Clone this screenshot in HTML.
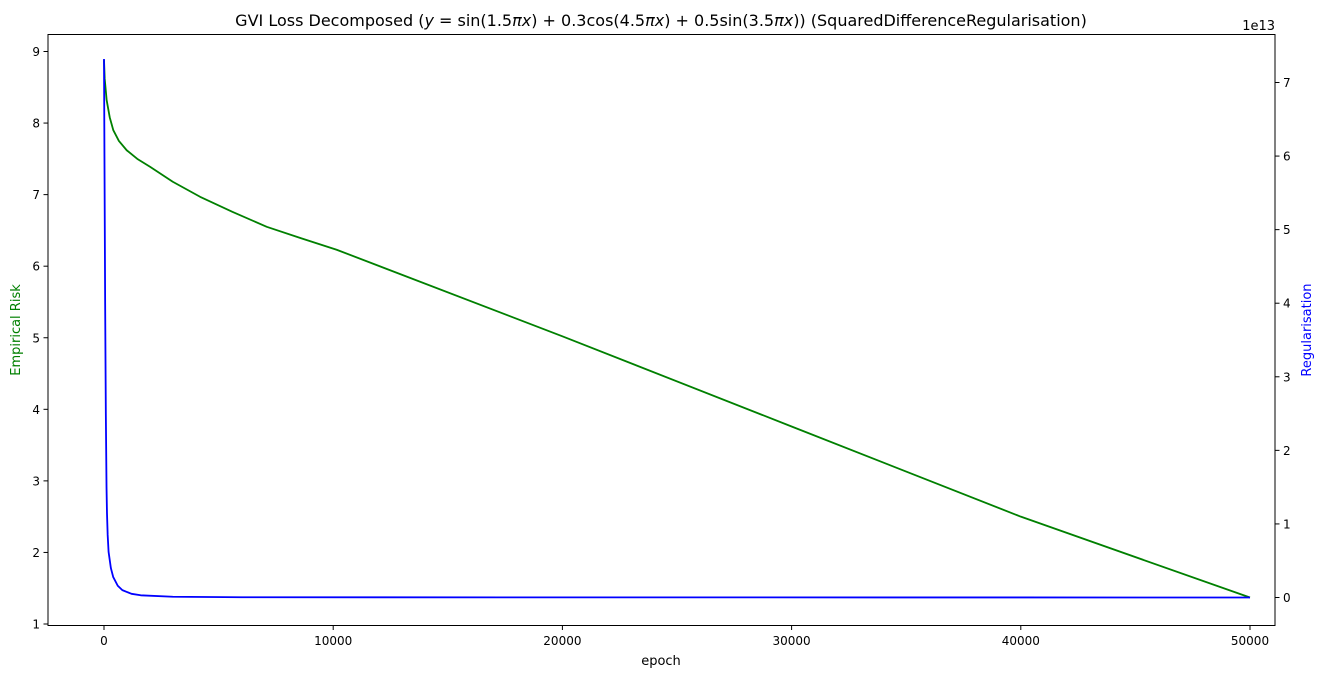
<!DOCTYPE html>
<html><head><meta charset="utf-8">
<style>
body{margin:0;background:#fff;}
svg{font-family:"DejaVu Sans","Liberation Sans",sans-serif;}
</style></head>
<body>
<svg id="chart" width="1323" height="678">
<rect x="0" y="0" width="1323" height="678" fill="#fff"/>
<text x="661" y="26" text-anchor="middle" font-size="16">GVI Loss Decomposed (<tspan font-style="italic">y</tspan> = sin(1.5<tspan font-style="italic">πx</tspan>) + 0.3cos(4.5<tspan font-style="italic">πx</tspan>) + 0.5sin(3.5<tspan font-style="italic">πx</tspan>)) (SquaredDifferenceRegularisation)</text>
<g id="plot"></g>
<rect x="48" y="34.5" width="1227" height="591" fill="none" stroke="#000" stroke-width="1"/>
<text x="661" y="665" text-anchor="middle" font-size="13">epoch</text>
<text transform="translate(20,330) rotate(-90)" text-anchor="middle" font-size="13" fill="green">Empirical Risk</text>
<text transform="translate(1311,330) rotate(-90)" text-anchor="middle" font-size="13" fill="blue">Regularisation</text>
<text x="1275" y="30" text-anchor="end" font-size="13">1e13</text>
</svg>
<script>
const xTicks=[0,10000,20000,30000,40000,50000];
const leftTicks=[1,2,3,4,5,6,7,8,9];
const rightTicks=[0,1,2,3,4,5,6,7];
const riskEpochs=[0,30,116,250,406,650,990,1450,2007,3000,4190,5600,7100,8600,10150,20000,30000,40000,50000];
const riskValues=[8.88,8.62,8.32,8.08,7.90,7.75,7.62,7.50,7.39,7.18,6.97,6.76,6.55,6.39,6.23,5.02,3.76,2.5,1.37];
const regEpochs=[0,20,50,80,110,130,160,200,300,400,600,800,1200,1600,3000,6000,50000];
const regValues=[7.32,6.0,4.0,2.5,1.5,1.15,0.85,0.62,0.4,0.28,0.16,0.1,0.05,0.03,0.01,0.003,0];

const sx=e=>104+e*(1250-104)/50000;
const syL=v=>624-(v-1)*(624-51.5)/8;
const syR=v=>597.5-v*(597.5-82.5)/7;
const NS="http://www.w3.org/2000/svg";
const g=document.getElementById('plot');
function mk(t,a){const el=document.createElementNS(NS,t);for(const k in a)el.setAttribute(k,a[k]);g.appendChild(el);return el;}
xTicks.forEach(t=>{
  const l=mk('line',{x1:sx(t),x2:sx(t),y1:625.5,y2:630,stroke:'#000'});
  
  
  const tx=mk('text',{x:sx(t),y:645,'text-anchor':'middle','font-size':12});
  tx.textContent=t;
  
  
});
leftTicks.forEach(t=>{
  const l=mk('line',{x1:43.5,x2:48,y1:syL(t),y2:syL(t),stroke:'#000'});
  
  
  const tx=mk('text',{x:40,y:syL(t)+4.5,'text-anchor':'end','font-size':12});
  tx.textContent=t;
  
  
});
rightTicks.forEach(t=>{
  const l=mk('line',{x1:1275,x2:1279.5,y1:syR(t),y2:syR(t),stroke:'#000'});
  
  
  const tx=mk('text',{x:1283,y:syR(t)+4.5,'text-anchor':'start','font-size':12});
  tx.textContent=t;
  
  
});
const rp=riskEpochs.map((e,i)=>sx(e)+','+syL(riskValues[i])).join(' ');
const risk=mk('polyline',{points:rp,fill:'none',stroke:'green','stroke-width':1.8,'stroke-linejoin':'round'});


const gp=regEpochs.map((e,i)=>sx(e)+','+syR(regValues[i])).join(' ');
const reg=mk('polyline',{points:gp,fill:'none',stroke:'blue','stroke-width':1.8,'stroke-linejoin':'round'});


</script>
</body></html>
